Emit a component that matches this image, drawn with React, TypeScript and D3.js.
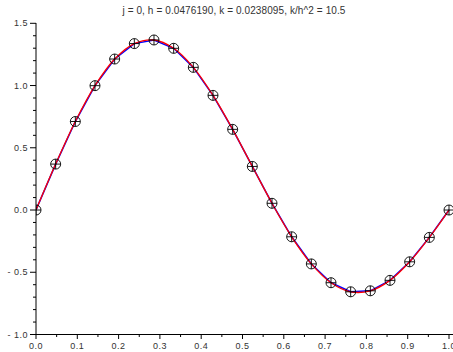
import React from "react";
import * as d3 from "d3";

const title = "j = 0, h = 0.0476190, k = 0.0238095, k/h^2 = 10.5";
const xs = [0, 0.047619, 0.095238, 0.142857, 0.190476, 0.238095, 0.285714, 0.333333, 0.380952, 0.428571, 0.476190, 0.523810, 0.571429, 0.619048, 0.666667, 0.714286, 0.761905, 0.809524, 0.857143, 0.904762, 0.952381, 1.0];
const numeric = [0, 0.369, 0.711, 0.999, 1.213, 1.337, 1.366, 1.299, 1.146, 0.921, 0.648, 0.350, 0.054, -0.215, -0.433, -0.584, -0.657, -0.649, -0.565, -0.416, -0.220, 0];
const exact = [0, 0.369, 0.711, 0.999, 1.213, 1.337, 1.366, 1.299, 1.146, 0.921, 0.648, 0.350, 0.054, -0.215, -0.433, -0.584, -0.657, -0.649, -0.565, -0.416, -0.220, 0];
const xTickLabels = ["0.0", "0.1", "0.2", "0.3", "0.4", "0.5", "0.6", "0.7", "0.8", "0.9", "1.0"];
const yTickValues = [-1.0, -0.5, 0.0, 0.5, 1.0, 1.5];
const yTickLabels = ["- 1.0", "- 0.5", "0.0", "0.5", "1.0", "1.5"];

export default function App() {
  const W = 453, H = 352;
  const x = d3.scaleLinear().domain([0, 1]).range([36, 449]);
  const y = d3.scaleLinear().domain([-1, 1.5]).range([334.5, 23.3]);
  const font = "'Liberation Sans', Arial, Helvetica, sans-serif";
  const txt = "#333";
  const tickStyle = { letterSpacing: "0.5px" };

  const blue = d3.line<number>().x((_, i) => x(xs[i])).y((d) => y(d))(numeric) || "";
  const red = d3.line<number>().x((_, i) => x(xs[i])).y((d) => y(d)).curve(d3.curveCatmullRom.alpha(0.5))(exact) || "";

  const xMinor = d3.range(0, 21).map((i) => i * 0.05);
  const yMinor = d3.range(0, 26).map((i) => -1 + i * 0.1);

  return (
    <svg width={W} height={H} style={{ position: "absolute", left: 0, top: 0, display: "block" }}>
      <defs>
        <clipPath id="plotclip">
          <rect x={36} y={0} width={W - 36} height={335} />
        </clipPath>
      </defs>
      <rect width={W} height={H} fill="#fff" />
      <text x={234} y={14} textAnchor="middle" fontFamily={font} fontSize={10} style={{ letterSpacing: "0.1px" }} fill={txt}>{title}</text>
      <g clipPath="url(#plotclip)">
        <path d={blue} fill="none" stroke="#0000ff" strokeWidth={1.5} />
        <path d={red} fill="none" stroke="#ff0000" strokeWidth={1.3} />
        {xs.map((xv, i) => {
          const cx = x(xv), cy = y(numeric[i]), r = 5;
          return (
            <g key={"m" + i} stroke="#000" strokeWidth={0.9} fill="none">
              <circle cx={cx} cy={cy} r={r} />
              <line x1={cx - r} x2={cx + r} y1={cy} y2={cy} />
              <line x1={cx} x2={cx} y1={cy - r} y2={cy + r} />
            </g>
          );
        })}
      </g>
      {/* axes */}
      <line x1={36} x2={36} y1={23} y2={335} stroke="#000" strokeWidth={1} />
      <line x1={36} x2={453} y1={334.5} y2={334.5} stroke="#000" strokeWidth={1} />
      {yMinor.map((v, i) => {
        const major = i % 5 === 0;
        return <line key={"ym" + i} x1={36} x2={major ? 30 : 33} y1={y(v)} y2={y(v)} stroke="#000" strokeWidth={1} />;
      })}
      {yTickValues.map((v, i) => (
        <text key={"yl" + i} x={28} y={y(v) + 3} textAnchor="end" fontFamily={font} fontSize={9} style={tickStyle} fill={txt}>{yTickLabels[i]}</text>
      ))}
      {xMinor.map((v, i) => {
        const major = i % 2 === 0;
        return <line key={"xm" + i} x1={x(v)} x2={x(v)} y1={334.5} y2={major ? 339 : 337} stroke="#000" strokeWidth={1} />;
      })}
      {xTickLabels.map((l, i) => (
        <text key={"xl" + i} x={x(i / 10)} y={349} textAnchor="middle" fontFamily={font} fontSize={9} style={tickStyle} fill={txt}>{l}</text>
      ))}
    </svg>
  );
}
